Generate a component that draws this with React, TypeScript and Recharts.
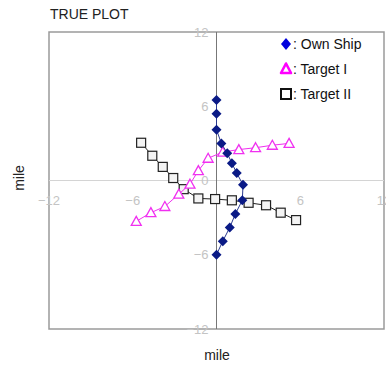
import React from "react";
import {
  ScatterChart,
  Scatter,
  XAxis,
  YAxis,
  ReferenceLine,
  ReferenceArea,
  ReferenceDot,
} from "recharts";

const axisTicks = [-12, -6, 0, 6, 12];

const ownShipX = [0, 0, 0, 0.35, 0.77, 1.1, 1.45, 1.9, 1.85, 1.35, 0.95, 0.45, 0];
const ownShipY = [6.5, 5.4, 4.1, 3.0, 2.2, 1.4, 0.6, -0.35, -1.6, -2.7, -3.8, -4.9, -6.0];

const targetOneX = [-5.75, -4.7, -3.7, -2.7, -1.9, -1.3, -0.6, 0.45, 1.6, 2.8, 4.0, 5.2];
const targetOneY = [-3.3, -2.6, -2.1, -1.1, -0.3, 0.8, 1.8, 2.3, 2.5, 2.65, 2.85, 3.0];

const targetTwoX = [-5.4, -4.6, -3.85, -3.1, -2.35, -1.3, -0.1, 1.1, 2.3, 3.55, 4.6, 5.7];
const targetTwoY = [3.05, 2.0, 1.1, 0.2, -0.7, -1.45, -1.5, -1.6, -1.8, -2.0, -2.6, -3.2];

const toPoints = (xs: number[], ys: number[]) => xs.map((x, i) => ({ x, y: ys[i] }));

const ownShip = toPoints(ownShipX, ownShipY);
const targetOne = toPoints(targetOneX, targetOneY);
const targetTwo = toPoints(targetTwoX, targetTwoY);

const font = "'Liberation Sans', Arial, sans-serif";
const tickColor = "#c4c4c4";

const fmt = (v: number) => (v < 0 ? `\u2212${Math.abs(v)}` : `${v}`);

const Diamond = (props: any) => {
  const { cx, cy } = props;
  const s = 5;
  return (
    <polygon
      points={`${cx},${cy - s} ${cx + s},${cy} ${cx},${cy + s} ${cx - s},${cy}`}
      fill="#0a1a86"
    />
  );
};

const Triangle = (props: any) => {
  const { cx, cy } = props;
  const s = 5;
  return (
    <polygon
      points={`${cx},${cy - s} ${cx + s},${cy + s * 0.8} ${cx - s},${cy + s * 0.8}`}
      fill="#fff"
      stroke="#f030f0"
      strokeWidth={1.3}
    />
  );
};

const Square = (props: any) => {
  const { cx, cy } = props;
  const s = 4.5;
  return (
    <rect x={cx - s} y={cy - s} width={s * 2} height={s * 2} fill="#f4f4f4" stroke="#222" strokeWidth={1.2} />
  );
};

const LegendBlock = () => (
  <svg
    width={110}
    height={70}
    style={{ position: "absolute", left: 278, top: 34, overflow: "visible" }}
  >
    <polygon points="8,4 13,10 8,16 3,10" fill="#0000dd" />
    <text x={15} y={15} fontSize={14} fontFamily={font} fill="#111">
      : Own Ship
    </text>
    <polygon points="8,29.5 13,39 3,39" fill="#fff" stroke="#ff00ff" strokeWidth={2.6} strokeLinejoin="round" />
    <text x={15} y={40} fontSize={14} fontFamily={font} fill="#111">
      : Target I
    </text>
    <rect x={3} y={55} width={10} height={10} fill="#fff" stroke="#111" strokeWidth={2} />
    <text x={15} y={65} fontSize={14} fontFamily={font} fill="#111">
      : Target II
    </text>
  </svg>
);

export default function App() {
  return (
    <div style={{ position: "absolute", left: 0, top: 0, width: 386, height: 366, background: "#fff" }}>
      <ScatterChart width={386} height={366} margin={{ top: 32, right: 2, bottom: 37, left: 49 }}>
        <XAxis type="number" dataKey="x" domain={[-12, 12]} ticks={axisTicks} hide />
        <YAxis type="number" dataKey="y" domain={[-12, 12]} ticks={axisTicks} hide />
        <ReferenceArea x1={-12} x2={12} y1={-12} y2={12} fill="none" stroke="#9a9a9a" strokeWidth={1.5} />
        <ReferenceLine y={0} stroke="#d4d4d4" strokeWidth={1} />
        <ReferenceLine x={0} stroke="#777" strokeWidth={1} />
        {axisTicks.map((t) => (
          <ReferenceDot
            key={`y${t}`}
            x={0}
            y={t}
            r={0}
            fill="none"
            stroke="none"
            label={{ value: fmt(t), position: "left", offset: 8, fill: tickColor, fontSize: 13, fontFamily: font }}
          />
        ))}
        {axisTicks
          .filter((t) => t !== 0)
          .map((t) => (
            <ReferenceDot
              key={`x${t}`}
              x={t}
              y={0}
              r={0}
              fill="none"
              stroke="none"
              label={{ value: fmt(t), position: "bottom", offset: 15, fill: tickColor, fontSize: 13, fontFamily: font }}
            />
          ))}
        <Scatter
          name="Target II"
          data={targetTwo}
          line={{ stroke: "#222", strokeWidth: 1 }}
          shape={Square}
          isAnimationActive={false}
        />
        <Scatter
          name="Target I"
          data={targetOne}
          line={{ stroke: "#f030f0", strokeWidth: 1 }}
          shape={Triangle}
          isAnimationActive={false}
        />
        <Scatter
          name="Own Ship"
          data={ownShip}
          line={{ stroke: "#2a3a90", strokeWidth: 1 }}
          shape={Diamond}
          isAnimationActive={false}
        />
      </ScatterChart>
      <LegendBlock />
      <div style={{ position: "absolute", left: 50, top: 6, fontFamily: font, fontSize: 14, color: "#222" }}>
        TRUE PLOT
      </div>
      <div
        style={{
          position: "absolute",
          left: 217,
          top: 347,
          transform: "translateX(-50%)",
          fontFamily: font,
          fontSize: 14,
          color: "#222",
        }}
      >
        mile
      </div>
      <div
        style={{
          position: "absolute",
          left: 19,
          top: 178,
          transform: "translate(-50%, -50%) rotate(-90deg)",
          fontFamily: font,
          fontSize: 14,
          color: "#222",
        }}
      >
        mile
      </div>
    </div>
  );
}
